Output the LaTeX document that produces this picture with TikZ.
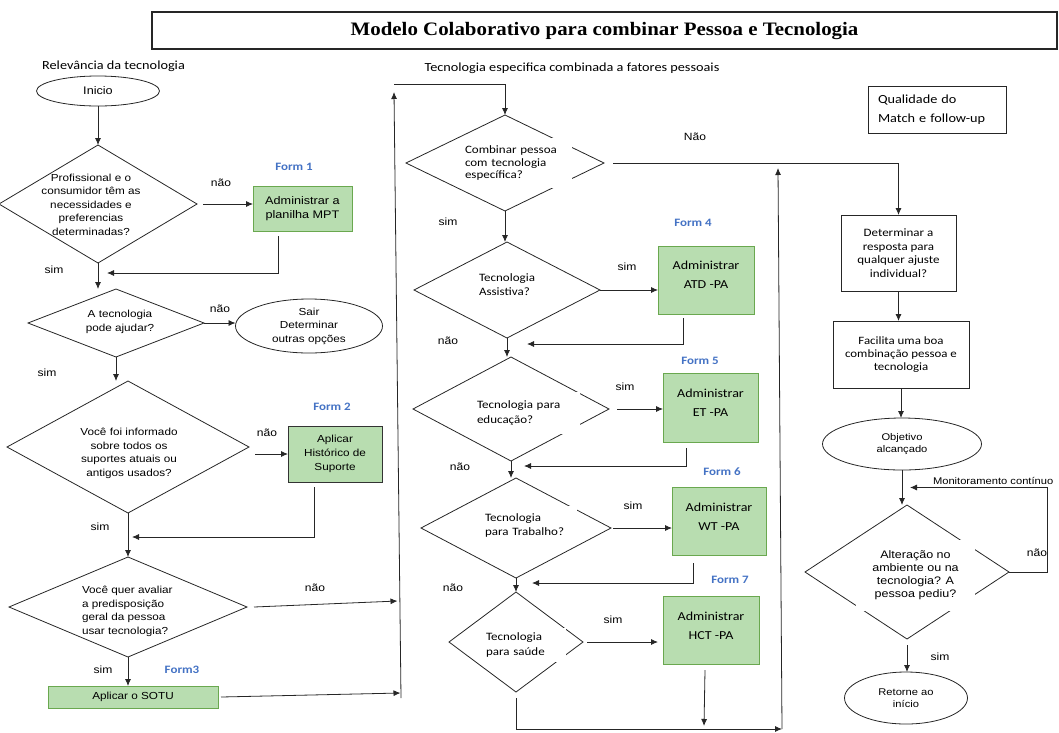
\documentclass[tikz,border=0pt]{standalone}
\usepackage{fontspec}
\setmainfont{Liberation Sans}
\newfontfamily\arialf{Liberation Sans}[FakeStretch=1.15]
\newfontfamily\calf{Carlito}[FakeStretch=1.15]
\newfontfamily\timesf{Liberation Serif}[FakeStretch=1.1]
\usetikzlibrary{shapes.geometric,arrows.meta}
\definecolor{gfill}{RGB}{184,221,176}
\definecolor{gdraw}{RGB}{106,168,79}
\definecolor{fblue}{RGB}{68,114,196}
\begin{document}
\begin{tikzpicture}[x=1pt,y=-1pt,
  every node/.style={inner sep=0pt,outer sep=0pt},
  conn/.style={line width=0.8pt,draw=black!85},
  arr/.style={conn,-{Latex[length=7pt,width=6pt]}},
  dia/.style={draw=black!85,line width=0.8pt,diamond,aspect=1},
  ell/.style={draw=black!85,line width=0.8pt,ellipse},
  gbox/.style={draw=gdraw,fill=gfill,line width=0.8pt},
  pbox/.style={draw=black!85,line width=0.8pt},
  ta/.style={font=\arialf\fontsize{10.2}{13.5}\selectfont,align=center},
  lab/.style={font=\arialf\fontsize{10.5}{12}\selectfont},
  form/.style={font=\calf\bfseries\fontsize{11.3}{13}\selectfont,text=fblue},
  ct/.style={font=\calf\fontsize{11.3}{14.5}\selectfont,align=left},
  gt/.style={font=\calf\fontsize{12.2}{19}\selectfont,align=center},
  hdr/.style={font=\calf\fontsize{12.4}{14}\selectfont},
  wbox/.style={ct,fill=white,inner xsep=5pt,inner ysep=0pt,anchor=north west},
]
\useasboundingbox (0,0) rectangle (1059,732);

% title
\node[draw=black!85,line width=1.3pt,minimum width=905,minimum height=37,anchor=north west,
  font=\timesf\bfseries\fontsize{19}{22}\selectfont] (title) at (152,12)
  {Modelo Colaborativo para combinar Pessoa e Tecnologia};

% ---------------- left column
\node[hdr] (relev) at (113.5,66) {Relevância da tecnologia};
\node[ell,minimum width=123,minimum height=30,font=\arialf\fontsize{11}{13}\selectfont] (inicio) at (98,91) {Inicio};
\node[dia,minimum width=198,minimum height=118] (d1) at (98,204) {};
\node[ta] (d1t) at (91,204.5) {Profissional e o\\consumidor têm as\\necessidades e\\preferencias\\determinadas?};
\node[lab] (l1) at (221,183) {não};
\node[form] (f1) at (294,167) {Form 1};
\node[gbox,minimum width=99,minimum height=45,align=center,font=\arialf\fontsize{11}{14}\selectfont] (b1) at (302.5,208.5) {Administrar a\\planilha MPT};
\node[lab] (l2) at (54,270) {sim};
\coordinate (j1) at (107,273);

\node[dia,minimum width=176,minimum height=68] (d2) at (116,323) {};
\node[ta] (d2t) at (120,322) {A tecnologia\\pode ajudar?};
\node[lab] (l3) at (220,309) {não};
\node[ell,minimum width=147,minimum height=54,ta] (sair) at (309,326) {Sair\\Determinar\\outras opções};
\node[lab] (l4) at (47,373) {sim};

\node[dia,minimum width=242,minimum height=132] (d3) at (128,447) {};
\node[ta] (d3t) at (129,453.5) {Você foi informado\\sobre todos os\\suportes atuais ou\\antigos usados?};
\node[lab] (l5) at (267,433) {não};
\node[form] (f2) at (332,407) {Form 2};
\node[gbox,draw=black!80,minimum width=94,minimum height=56,align=center,font=\arialf\fontsize{10.2}{14}\selectfont] (b2) at (335,454) {Aplicar\\Histórico de\\Suporte};
\node[lab] (l6) at (100,527) {sim};
\coordinate (j2) at (132,537);

\node[dia,minimum width=238,minimum height=100] (d4) at (128,607) {};
\node[ta,align=left,anchor=west] (d4t) at (82,611.5) {Você quer avaliar\\a predisposição\\geral da pessoa\\usar tecnologia?};
\node[lab] (l7) at (315,588) {não};
\node[lab] (l8) at (103,670) {sim};
\node[form] (f3) at (182,670) {Form3};
\node[gbox,minimum width=170,minimum height=22,font=\arialf\fontsize{10.2}{12}\selectfont] (sotu) at (133,697) {Aplicar o SOTU};

\coordinate (vb) at (401,698);
\coordinate (v1) at (397.5,601);
\coordinate (v2) at (400.5,693);
\coordinate (vt) at (394,92);
\coordinate (vtop) at (394,84);

% ---------------- middle column
\node[hdr] (hdr2) at (572,68) {Tecnologia especifica combinada a fatores pessoais};
\node[dia,minimum width=198,minimum height=96] (d5) at (505,163) {};
\node[wbox,text width=102,minimum height=50,font=\calf\fontsize{11.3}{12.5}\selectfont] (d5t) at (460,138) {Combinar pessoa\\com tecnologia\\específica?};
\node[lab] (l9) at (695,137) {Não};
\node[lab] (l10) at (448,222) {sim};

\node[dia,minimum width=186,minimum height=96] (d6) at (507,290) {};
\node[ct,anchor=west] (d6t) at (479,284.5) {Tecnologia\\Assistiva?};
\node[lab] (l11) at (627,267) {sim};
\node[form] (f4) at (693,223) {Form 4};
\node[gbox,minimum width=96,minimum height=68] (b4) at (706,280) {};
\node[gt] (b4t) at (706,275) {Administrar\\ATD -PA};
\coordinate (j4) at (527,344);
\node[lab] (l12) at (448,341) {não};

\node[dia,minimum width=196,minimum height=104] (d7) at (511,409) {};
\node[wbox,text width=98,minimum height=42] (d7t) at (472,392) {Tecnologia para\\educação?};
\node[lab] (l13) at (625,387) {sim};
\node[form] (f5) at (700,361) {Form 5};
\node[gbox,minimum width=95,minimum height=69] (b5) at (710.5,407.5) {};
\node[gt] (b5t) at (710.5,403) {Administrar\\ET -PA};
\coordinate (j5) at (524,466);
\node[lab] (l14) at (460,467) {não};

\node[dia,minimum width=190,minimum height=100] (d8) at (516,528) {};
\node[wbox,text width=87,minimum height=39] (d8t) at (480,506) {Tecnologia\\para Trabalho?};
\node[lab] (l15) at (633,506) {sim};
\node[form] (f6) at (722,472) {Form 6};
\node[gbox,minimum width=94,minimum height=68] (b6) at (719,521) {};
\node[gt] (b6t) at (719,516.5) {Administrar\\WT -PA};
\coordinate (j6) at (532,583);
\node[lab] (l16) at (453,588) {não};

\node[dia,minimum width=134,minimum height=100] (d9) at (516,642) {};
\node[wbox,text width=75,minimum height=34] (d9t) at (481,628) {Tecnologia\\para saúde};
\node[lab] (l17) at (613,620) {sim};
\node[form] (f7) at (730,580) {Form 7};
\node[gbox,minimum width=96,minimum height=68] (b7) at (711,630) {};
\node[gt] (b7t) at (711,625.5) {Administrar\\HCT -PA};
\coordinate (k7) at (704,726);
\coordinate (jb) at (782,729);
\coordinate (vt2) at (778,168);

% ---------------- right column
\node[pbox,anchor=north west,text width=118,inner xsep=10,minimum height=47,align=left,
  font=\calf\fontsize{12.4}{19}\selectfont] (qual) at (868,86) {Qualidade do\\Match e follow-up};
\node[pbox,minimum width=115,minimum height=76,align=center,font=\calf\fontsize{11.3}{13.5}\selectfont] (det) at (898.5,253) {Determinar a\\resposta para\\qualquer ajuste\\individual?};
\node[pbox,minimum width=136,minimum height=67,align=center,font=\calf\fontsize{11.2}{13}\selectfont] (fac) at (901,354.5) {Facilita uma boa\\combinação pessoa e\\tecnologia};
\node[ell,minimum width=159,minimum height=52,align=center,font=\arialf\fontsize{9.7}{12.5}\selectfont] (obj) at (902,444) {Objetivo\\alcançado};
\node[font=\arialf\fontsize{9.7}{12}\selectfont,anchor=base west] (mon) at (933,484.5) {Monitoramento contínuo};
\node[dia,minimum width=204,minimum height=134] (d10) at (907,572) {};
\node[fill=white,minimum width=119,minimum height=71,align=center,font=\arialf\fontsize{10.9}{13}\selectfont] (d10t) at (915.5,575.5) {Alteração no\\ambiente ou na\\tecnologia? A\\pessoa pediu?};
\coordinate (jm) at (910,487.5);
\node[lab] (l18) at (1037,553) {não};
\node[lab] (l19) at (940,657) {sim};
\node[ell,minimum width=123,minimum height=52,align=center,font=\arialf\fontsize{9.7}{12.5}\selectfont] (ret) at (906,698) {Retorne ao\\início};

% ---------------- connectors
\draw[arr] (inicio.south) -- (inicio.south |- d1.north);
\draw[arr] ([xshift=6]d1.east) -- (d1.east -| b1.west);
\draw[arr] ([xshift=-24.5,yshift=-5]b1.south) |- (j1);
\draw[arr] (d1.south) -- (d1.south |- d2.north);
\draw[arr] (d2.east) -- (d2.east -| sair.west);
\draw[arr] (d2.south) -- (d2.south |- d3.north);
\draw[arr] ([xshift=-33]b2.west) -- (b2.west);
\draw[arr] ([xshift=-21,yshift=-5]b2.south) |- (j2);
\draw[arr] (d3.south) -- (d4.north);
\draw[arr] ([xshift=7]d4.east) -- (v1);
\draw[arr] (d4.south) -- (d4.south |- sotu.north);
\draw[arr] ([xshift=3]sotu.east) -- (v2);
\draw[arr] (vb) -- (vt);
\draw[arr] (vtop) -| (d5.north);
\draw[arr] (d5.south) -- (d5.south |- d6.north);
\draw[arr] ([xshift=9]d5.east) -| (det.north);
\draw[arr] (d6.east) -- (d6.east -| b4.west);
\draw[arr] ([xshift=-23,yshift=-4]b4.south) |- (j4);
\draw[arr] (d6.south) -- (d6.south |- d7.north);
\draw[arr] ([xshift=8]d7.east) -- (d7.east -| b5.west);
\draw[arr] ([xshift=-24.5,yshift=-6]b5.south) |- (j5);
\draw[arr] (d7.south) -- (d7.south |- d8.north);
\draw[arr] ([xshift=2]d8.east) -- (d8.east -| b6.west);
\draw[arr] ([xshift=-26,yshift=-8]b6.south) |- (j6);
\draw[arr] (d8.south) -- (d8.south |- d9.north);
\draw[arr] ([xshift=4]d9.east) -- ([xshift=-5]d9.east -| b7.west);
\draw[arr] ([xshift=-6,yshift=-6]b7.south) -- (k7);
\draw[arr] ([yshift=-6]d9.south) |- (jb);
\draw[arr] (jb) -- (vt2);
\draw[arr] (det.south) -- (det.south |- fac.north);
\draw[arr] (fac.south) -- (fac.south |- obj.north);
\draw[arr] (obj.south) -- (obj.south |- d10.north);
\draw[arr] (d10.east) -- ++(38,0) |- (jm);
\draw[arr] ([yshift=-6]d10.south) -- (d10.south |- ret.north);
\end{tikzpicture}
\end{document}
